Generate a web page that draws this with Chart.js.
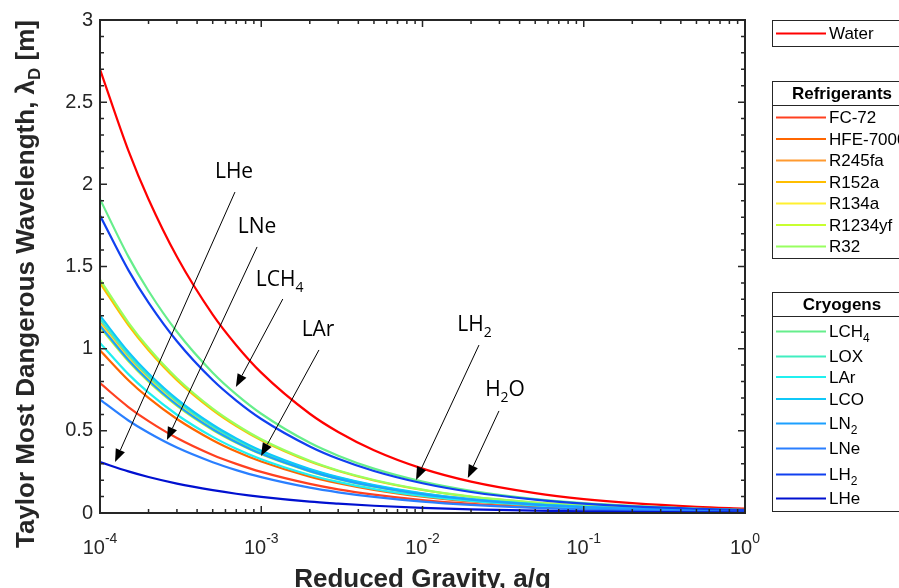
<!DOCTYPE html>
<html>
<head>
<meta charset="utf-8">
<script src="https://cdn.jsdelivr.net/npm/chart.js@4.4.0/dist/chart.umd.min.js"></script>
<style>
  body { margin: 0; background: #fff; }
  canvas { display: block; }
</style>
</head>
<body>
<canvas id="chart" width="899" height="588"></canvas>
<script>
// reduced gravity a/g where the curves were read
var gravity = [1e-4, 1.5e-4, 2e-4, 3e-4, 5e-4, 7e-4, 1e-3, 2e-3, 3e-3, 5e-3, 1e-2, 2e-2, 5e-2, 0.1, 0.2, 0.5, 1];

// lambda_D [m]
var water   = [2.700, 2.205, 1.909, 1.559, 1.207, 1.021, 0.854, 0.604, 0.493, 0.382, 0.270, 0.191, 0.121, 0.085, 0.060, 0.038, 0.027];
var fc72    = [0.790, 0.645, 0.559, 0.456, 0.353, 0.299, 0.250, 0.177, 0.144, 0.112, 0.079, 0.056, 0.035, 0.025, 0.018, 0.011, 0.008];
var hfe7000 = [0.990, 0.808, 0.700, 0.572, 0.443, 0.374, 0.313, 0.221, 0.181, 0.140, 0.099, 0.070, 0.044, 0.031, 0.022, 0.014, 0.010];
var r245fa  = [1.160, 0.947, 0.820, 0.670, 0.519, 0.438, 0.367, 0.259, 0.212, 0.164, 0.116, 0.082, 0.052, 0.037, 0.026, 0.016, 0.012];
var r152a   = [1.400, 1.143, 0.990, 0.808, 0.626, 0.529, 0.443, 0.313, 0.256, 0.198, 0.140, 0.099, 0.063, 0.044, 0.031, 0.020, 0.014];
var r134a   = [1.150, 0.939, 0.813, 0.664, 0.514, 0.435, 0.364, 0.257, 0.210, 0.163, 0.115, 0.081, 0.051, 0.036, 0.026, 0.016, 0.012];
var r1234yf = [1.130, 0.923, 0.799, 0.652, 0.505, 0.427, 0.357, 0.253, 0.206, 0.160, 0.113, 0.080, 0.051, 0.036, 0.025, 0.016, 0.011];
var r32     = [1.420, 1.159, 1.004, 0.820, 0.635, 0.537, 0.449, 0.318, 0.259, 0.201, 0.142, 0.100, 0.064, 0.045, 0.032, 0.020, 0.014];
var lch4    = [1.910, 1.560, 1.351, 1.103, 0.854, 0.722, 0.604, 0.427, 0.349, 0.270, 0.191, 0.135, 0.085, 0.060, 0.043, 0.027, 0.019];
var lox     = [1.180, 0.963, 0.834, 0.681, 0.528, 0.446, 0.373, 0.264, 0.215, 0.167, 0.118, 0.083, 0.053, 0.037, 0.026, 0.017, 0.012];
var lar     = [1.035, 0.845, 0.732, 0.598, 0.463, 0.391, 0.327, 0.231, 0.189, 0.146, 0.104, 0.073, 0.046, 0.033, 0.023, 0.015, 0.010];
var lco     = [1.200, 0.980, 0.849, 0.693, 0.537, 0.454, 0.379, 0.268, 0.219, 0.170, 0.120, 0.085, 0.054, 0.038, 0.027, 0.017, 0.012];
var ln2     = [1.140, 0.931, 0.806, 0.658, 0.510, 0.431, 0.360, 0.255, 0.208, 0.161, 0.114, 0.081, 0.051, 0.036, 0.025, 0.016, 0.011];
var lne     = [0.690, 0.563, 0.488, 0.398, 0.309, 0.261, 0.218, 0.154, 0.126, 0.098, 0.069, 0.049, 0.031, 0.022, 0.015, 0.010, 0.007];
var lh2     = [1.810, 1.478, 1.280, 1.045, 0.809, 0.684, 0.572, 0.405, 0.330, 0.256, 0.181, 0.128, 0.081, 0.057, 0.040, 0.026, 0.018];
var lhe     = [0.310, 0.253, 0.219, 0.179, 0.139, 0.117, 0.098, 0.069, 0.057, 0.044, 0.031, 0.022, 0.014, 0.010, 0.007, 0.004, 0.003];

var refrigerantNames = ["FC-72", "HFE-7000", "R245fa", "R152a", "R134a", "R1234yf", "R32"];
var cryogenNames = ["LCH4", "LOX", "LAr", "LCO", "LN2", "LNe", "LH2", "LHe"];

var yTicks = [0, 0.5, 1, 1.5, 2, 2.5, 3];
var yTickLabels = ["0", "0.5", "1", "1.5", "2", "2.5", "3"];
var xTicks = [1e-4, 1e-3, 1e-2, 1e-1, 1];
var xTickExponents = ["-4", "-3", "-2", "-1", "0"];

// arrows: label, text position, arrow start, arrow tip (data coords)
var notes = [
  { text: "LHe", sub: "", at: [6.78e-4, 2.075], from: [6.87e-4, 1.953], to: [1.24e-4, 0.310] },
  { text: "LNe", sub: "", at: [9.42e-4, 1.740], from: [9.42e-4, 1.619], to: [2.60e-4, 0.444] },
  { text: "LCH", sub: "4", at: [1.30e-3, 1.418], from: [1.36e-3, 1.302], to: [6.96e-4, 0.767] },
  { text: "LAr", sub: "", at: [2.25e-3, 1.114], from: [2.28e-3, 0.992], to: [9.96e-4, 0.347] },
  { text: "LH", sub: "2", at: [0.0210, 1.144], from: [0.0224, 1.022], to: [9.12e-3, 0.201] },
  { text: "H", sub: "2", sup2: "O", at: [0.0325, 0.748], from: [0.0298, 0.621], to: [0.0191, 0.213] }
];

var seriesList = [
  { name: "Water", values: water, color: "#FF0000" },
  { name: "FC-72", values: fc72, color: "#FF4020" },
  { name: "HFE-7000", values: hfe7000, color: "#FF6600" },
  { name: "R245fa", values: r245fa, color: "#FF9A30" },
  { name: "R152a", values: r152a, color: "#FFBE00" },
  { name: "R134a", values: r134a, color: "#FFF030" },
  { name: "R1234yf", values: r1234yf, color: "#C8FF30" },
  { name: "R32", values: r32, color: "#98FF60" },
  { name: "LCH4", values: lch4, color: "#66EE8C" },
  { name: "LOX", values: lox, color: "#40EEC0" },
  { name: "LAr", values: lar, color: "#20F0F0" },
  { name: "LCO", values: lco, color: "#10C8F8" },
  { name: "LN2", values: ln2, color: "#1CA0FF" },
  { name: "LNe", values: lne, color: "#2A7FFF" },
  { name: "LH2", values: lh2, color: "#1040F0" },
  { name: "LHe", values: lhe, color: "#0010D0" }
];

var colorOf = {};
seriesList.forEach(function (s) { colorOf[s.name] = s.color; });

var datasets = seriesList.map(function (s, i) {
  return {
    label: s.name,
    data: gravity.map(function (g, j) { return { x: g, y: s.values[j] }; }),
    borderColor: s.color,
    backgroundColor: s.color,
    borderWidth: 2.2,
    pointRadius: 0,
    fill: false,
    cubicInterpolationMode: "monotone",
    order: seriesList.length - i
  };
});

var AXIS = "#262626";
var SANS = "'Liberation Sans', Arial, sans-serif";

function textWithSub(ctx, x, y, main, sub, size) {
  ctx.font = size + "px " + SANS;
  var w1 = ctx.measureText(main).width;
  ctx.textAlign = "left";
  ctx.fillText(main, x, y);
  if (sub) {
    ctx.font = Math.round(size * 0.7) + "px " + SANS;
    ctx.fillText(sub, x + w1, y + size * 0.38);
  }
}

var framePlugin = {
  id: "frame",
  afterDatasetsDraw: function (chart) {
    var ctx = chart.ctx, a = chart.chartArea;
    var xs = chart.scales.x, ys = chart.scales.y;
    ctx.save();

    // annotations
    ctx.strokeStyle = "#000";
    ctx.fillStyle = "#000";
    ctx.lineWidth = 1;
    notes.forEach(function (n) {
      var x1 = xs.getPixelForValue(n.from[0]), y1 = ys.getPixelForValue(n.from[1]);
      var x2 = xs.getPixelForValue(n.to[0]), y2 = ys.getPixelForValue(n.to[1]);
      var ang = Math.atan2(y2 - y1, x2 - x1);
      var hl = 13, hw = 5;
      var bx = x2 - hl * Math.cos(ang), by = y2 - hl * Math.sin(ang);
      ctx.beginPath();
      ctx.moveTo(x1, y1);
      ctx.lineTo(bx, by);
      ctx.stroke();
      ctx.beginPath();
      ctx.moveTo(x2, y2);
      ctx.lineTo(bx + hw * Math.sin(ang), by - hw * Math.cos(ang));
      ctx.lineTo(bx - hw * Math.sin(ang), by + hw * Math.cos(ang));
      ctx.closePath();
      ctx.fill();

      var tx = xs.getPixelForValue(n.at[0]), ty = ys.getPixelForValue(n.at[1]);
      var f = "21px 'Open Sans', sans-serif", fs = "14px 'Open Sans', sans-serif";
      ctx.font = f;
      var w1 = ctx.measureText(n.text).width;
      ctx.font = fs;
      var w2 = n.sub ? ctx.measureText(n.sub).width : 0;
      ctx.font = f;
      var w3 = n.sup2 ? ctx.measureText(n.sup2).width : 0;
      var x0 = tx - (w1 + w2 + w3) / 2;
      ctx.textAlign = "left";
      ctx.textBaseline = "middle";
      ctx.fillText(n.text, x0, ty);
      if (n.sub) {
        ctx.font = fs;
        ctx.fillText(n.sub, x0 + w1, ty + 8);
      }
      if (n.sup2) {
        ctx.font = f;
        ctx.fillText(n.sup2, x0 + w1 + w2, ty);
      }
    });

    // axes box with inward ticks
    ctx.strokeStyle = AXIS;
    ctx.lineWidth = 2;
    ctx.strokeRect(a.left, a.top, a.right - a.left, a.bottom - a.top);
    ctx.lineWidth = 1.5;
    ctx.beginPath();
    for (var k = 0; k <= 30; k++) {
      var v = k / 10;
      var py = ys.getPixelForValue(v);
      var len = (k % 5 === 0) ? 7 : 4;
      ctx.moveTo(a.left, py); ctx.lineTo(a.left + len, py);
      ctx.moveTo(a.right, py); ctx.lineTo(a.right - len, py);
    }
    for (var e = -4; e <= 0; e++) {
      for (var m = 1; m <= 9; m++) {
        var val = m * Math.pow(10, e);
        if (val > 1) break;
        var px = xs.getPixelForValue(val);
        var l = (m === 1) ? 7 : 4;
        ctx.moveTo(px, a.bottom); ctx.lineTo(px, a.bottom - l);
        ctx.moveTo(px, a.top); ctx.lineTo(px, a.top + l);
      }
    }
    ctx.stroke();

    // tick labels
    ctx.fillStyle = AXIS;
    ctx.font = "20px " + SANS;
    ctx.textAlign = "right";
    ctx.textBaseline = "middle";
    yTicks.forEach(function (v, i) {
      ctx.fillText(yTickLabels[i], a.left - 7, ys.getPixelForValue(v));
    });
    ctx.textBaseline = "alphabetic";
    xTicks.forEach(function (v, i) {
      var px = xs.getPixelForValue(v);
      ctx.font = "20px " + SANS;
      var wb = ctx.measureText("10").width;
      ctx.font = "14px " + SANS;
      var we = ctx.measureText(xTickExponents[i]).width;
      var x0 = px - (wb + we) / 2;
      ctx.textAlign = "left";
      ctx.font = "20px " + SANS;
      ctx.fillText("10", x0, a.bottom + 41);
      ctx.font = "14px " + SANS;
      ctx.fillText(xTickExponents[i], x0 + wb, a.bottom + 30);
    });

    // axis titles
    ctx.font = "bold 26px " + SANS;
    ctx.textAlign = "center";
    ctx.fillText("Reduced Gravity, a/g", (a.left + a.right) / 2, 587);

    ctx.save();
    ctx.translate(34, 284);
    ctx.rotate(-Math.PI / 2);
    var t1 = "Taylor Most Dangerous Wavelength, \u03BB", t2 = "D", t3 = " [m]";
    ctx.font = "bold 26px " + SANS;
    var w1 = ctx.measureText(t1).width, w3 = ctx.measureText(t3).width;
    ctx.font = "bold 17px " + SANS;
    var w2 = ctx.measureText(t2).width;
    var x0 = -(w1 + w2 + w3) / 2;
    ctx.textAlign = "left";
    ctx.font = "bold 26px " + SANS;
    ctx.fillText(t1, x0, 0);
    ctx.font = "bold 17px " + SANS;
    ctx.fillText(t2, x0 + w1, 6);
    ctx.font = "bold 26px " + SANS;
    ctx.fillText(t3, x0 + w1 + w2, 0);
    ctx.restore();

    // legend boxes
    ctx.lineWidth = 1;
    ctx.strokeStyle = AXIS;
    function box(top, bottom, title, sep) {
      ctx.fillStyle = "#fff";
      ctx.fillRect(772, top, 200, bottom - top);
      ctx.strokeRect(772.5, top + 0.5, 200, bottom - top);
      if (title) {
        ctx.fillStyle = "#000";
        ctx.font = "bold 17px " + SANS;
        ctx.textAlign = "center";
        ctx.textBaseline = "middle";
        ctx.fillText(title, 842, (top + sep) / 2 + 1);
        ctx.beginPath();
        ctx.moveTo(772, sep + 0.5); ctx.lineTo(899, sep + 0.5);
        ctx.stroke();
      }
    }
    function entry(y, name) {
      ctx.strokeStyle = colorOf[name];
      ctx.lineWidth = 2;
      ctx.beginPath();
      ctx.moveTo(776, y); ctx.lineTo(826, y);
      ctx.stroke();
      ctx.fillStyle = "#000";
      ctx.textBaseline = "middle";
      var m = name.match(/^(L[A-Za-z]+?)(\d)$/);
      if (m) textWithSub(ctx, 829, y + 1, m[1], m[2], 17);
      else textWithSub(ctx, 829, y + 1, name, "", 17);
      ctx.strokeStyle = AXIS;
      ctx.lineWidth = 1;
    }
    box(20, 46);
    entry(33.5, "Water");
    box(81, 258, "Refrigerants", 105);
    var ry = [117.5, 139, 160.5, 182, 203.5, 225, 246.5];
    refrigerantNames.forEach(function (n, i) { entry(ry[i], n); });
    box(292, 511, "Cryogens", 316);
    var cy = [331.5, 356.5, 377, 399, 423.5, 448.5, 474.5, 498.5];
    cryogenNames.forEach(function (n, i) { entry(cy[i], n); });

    ctx.restore();
  }
};

new Chart(document.getElementById("chart").getContext("2d"), {
  type: "line",
  data: { datasets: datasets },
  options: {
    responsive: false,
    animation: false,
    layout: { padding: { left: 0, top: 20, right: 154, bottom: 0 } },
    scales: {
      x: {
        type: "logarithmic", min: 1e-4, max: 1,
        ticks: { display: false }, grid: { display: false }, border: { display: false },
        afterFit: function (s) { s.height = 75; }
      },
      y: {
        min: 0, max: 3,
        ticks: { display: false }, grid: { display: false }, border: { display: false },
        afterFit: function (s) { s.width = 100; }
      }
    },
    plugins: { legend: { display: false }, tooltip: { enabled: false } }
  },
  plugins: [framePlugin]
});
</script>
</body>
</html>
